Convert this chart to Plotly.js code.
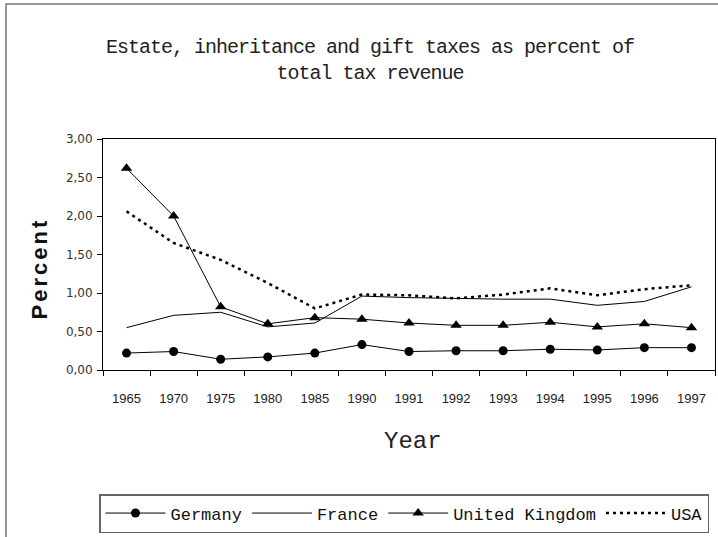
<!DOCTYPE html>
<html>
<head>
<meta charset="utf-8">
<script src="https://cdn.plot.ly/plotly-3.0.1.min.js"></script>
<style>
  html, body { margin: 0; padding: 0; background: #fff; }
  #chart { width: 718px; height: 537px; }
  .ylab-spaced text { letter-spacing: 3px; }
  .gtitle { letter-spacing: -1px; }
</style>
</head>
<body>
<div id="chart"></div>
<script>
const years = ['1965','1970','1975','1980','1985','1990','1991','1992','1993','1994','1995','1996','1997'];
const germany = [0.22,0.24,0.14,0.17,0.22,0.33,0.24,0.25,0.25,0.27,0.26,0.29,0.29];
const france  = [0.55,0.71,0.75,0.56,0.61,0.96,0.94,0.93,0.92,0.92,0.84,0.89,1.08];
const uk      = [2.62,2.00,0.82,0.60,0.68,0.66,0.61,0.58,0.58,0.62,0.56,0.60,0.55];
const usa     = [2.06,1.65,1.43,1.13,0.80,0.98,0.97,0.93,0.98,1.06,0.97,1.05,1.10];
const seriesNames = ['Germany','France','United Kingdom','USA'];
const titleText = 'Estate, inheritance and gift taxes as percent of<br>total tax revenue';
const xTitle = 'Year';
const yTitle = 'Percent';

const W = 718, H = 537;
const M = {l: 103, r: 3, t: 139, b: 167};
const pw = W - M.l - M.r, ph = H - M.t - M.b;
const px = v => (v - M.l) / pw;          // pixel x -> paper x
const py = v => (H - M.b - v) / ph;      // pixel y -> paper y

const mono = 'Liberation Mono, Courier New, monospace';

const traces = [
  {x: years, y: germany, name: seriesNames[0], type: 'scatter', mode: 'lines+markers',
   line: {color: '#000', width: 1}, marker: {symbol: 'circle', size: 9, color: '#000'}},
  {x: years, y: france, name: seriesNames[1], type: 'scatter', mode: 'lines',
   line: {color: '#000', width: 1}},
  {x: years, y: uk, name: seriesNames[2], type: 'scatter', mode: 'lines+markers',
   line: {color: '#000', width: 1}, marker: {symbol: 'triangle-up', size: 10, color: '#000'}},
  {x: years, y: usa, name: seriesNames[3], type: 'scatter', mode: 'lines',
   line: {color: '#000', width: 2.5, dash: '3px,4px'}}
];

const layout = {
  width: W, height: H,
  margin: M,
  paper_bgcolor: '#fff', plot_bgcolor: '#fff',
  separators: ',.',
  showlegend: true,
  title: {text: titleText, font: {family: mono, size: 20, color: '#222'},
          x: 370 / W, xref: 'container', xanchor: 'center',
          y: 1 - 53 / H, yref: 'container', yanchor: 'middle'},
  xaxis: {type: 'category', range: [-0.5, years.length - 0.5], autorange: false, automargin: false,
          showgrid: false, zeroline: false,
          showline: true, mirror: true, linecolor: '#000', linewidth: 1,
          ticks: 'outside', tickson: 'boundaries', ticklen: 5, tickcolor: '#000',
          ticklabelstandoff: 16,
          tickfont: {family: 'Liberation Sans, Arial, sans-serif', size: 13, color: '#222'}},
  yaxis: {range: [0, 3], autorange: false, automargin: false, dtick: 0.5, tickformat: '.2f',
          showgrid: false, zeroline: false,
          showline: true, mirror: true, linecolor: '#000', linewidth: 1,
          ticks: 'outside', ticklen: 5, tickcolor: '#000', ticklabelstandoff: 2,
          tickfont: {family: 'DejaVu Sans, sans-serif', size: 12, color: '#333'}},
  legend: {orientation: 'h', x: px(99), xanchor: 'left', y: py(494), yanchor: 'top',
           bordercolor: '#666', borderwidth: 1.5, bgcolor: '#fff',
           itemwidth: 60, font: {family: mono, size: 17, color: '#111'}},
  annotations: [
    {text: xTitle, xref: 'paper', yref: 'paper', x: px(413), y: py(441),
     xanchor: 'center', yanchor: 'middle', showarrow: false,
     font: {family: mono, size: 24, color: '#222'}},
    {text: yTitle, xref: 'paper', yref: 'paper', x: px(39), y: py(269),
     xanchor: 'center', yanchor: 'middle', showarrow: false, textangle: -90,
     font: {family: 'Liberation Sans, Arial, sans-serif', size: 22, color: '#111', weight: 'bold'}}
  ],
  shapes: [
    {type: 'rect', xref: 'paper', yref: 'paper', x0: px(6), x1: px(760), y0: py(4), y1: py(580),
     line: {color: '#777', width: 1.5}, layer: 'below'}
  ]
};

Plotly.newPlot('chart', traces, layout, {displayModeBar: false, staticPlot: true}).then(() => {
  const ann = document.querySelectorAll('.annotation');
  if (ann[1]) ann[1].classList.add('ylab-spaced');
});
</script>
</body>
</html>
